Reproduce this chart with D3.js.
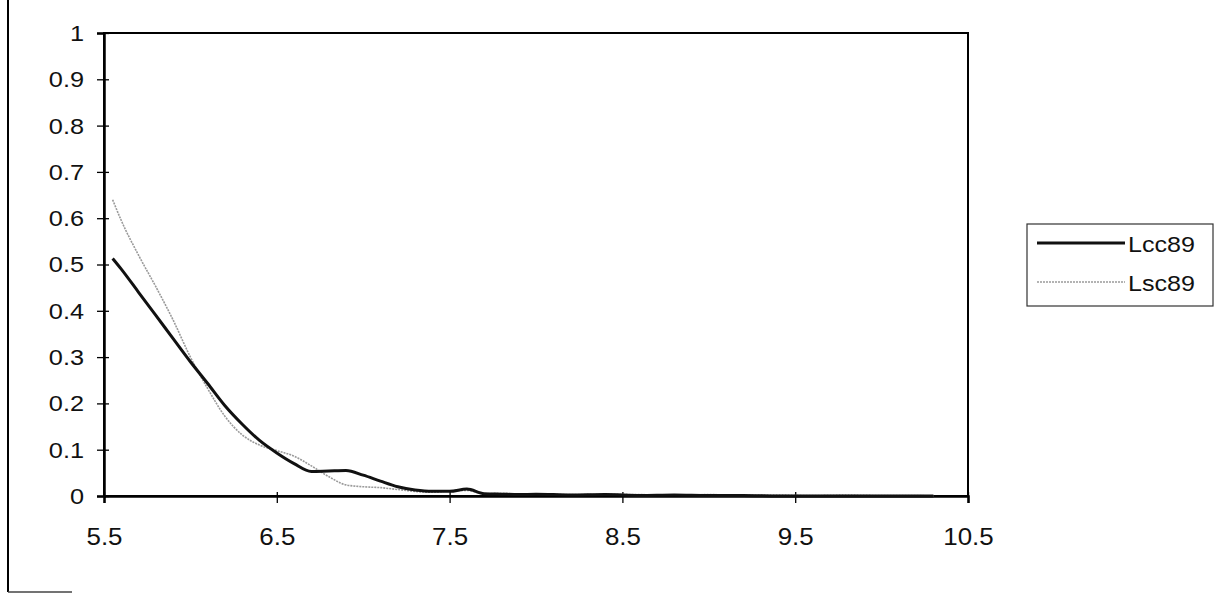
<!DOCTYPE html>
<html>
<head>
<meta charset="utf-8">
<script src="https://cdn.jsdelivr.net/npm/d3@7/dist/d3.min.js"></script>
<style>
  body { margin: 0; background: #fff; }
  svg { display: block; font-family: "Liberation Sans", Arial, sans-serif; }
</style>
</head>
<body>
<svg id="chart"></svg>
<script>
// x positions sampled along the curves
const xValues = [5.55, 5.6, 5.7, 5.8, 5.9, 6.0, 6.1, 6.2, 6.3, 6.4, 6.5, 6.6, 6.7, 6.8, 6.9,
  7.0, 7.1, 7.2, 7.3, 7.4, 7.5, 7.6, 7.7, 7.8, 7.9, 8.0, 8.2, 8.4, 8.6, 8.8, 9.0, 9.2, 9.4,
  9.6, 9.8, 10.0, 10.2, 10.3];

const lcc89 = [0.513, 0.49, 0.44, 0.39, 0.34, 0.29, 0.243, 0.195, 0.155, 0.12, 0.093, 0.07, 0.053,
  0.054, 0.055, 0.045, 0.032, 0.02, 0.013, 0.01, 0.01, 0.015, 0.005, 0.004, 0.003, 0.004, 0.002,
  0.003, 0.001, 0.002, 0.001, 0.001, 0.0, 0.0, 0.0, 0.0, 0.0, 0.0];

const lsc89 = [0.64, 0.595, 0.52, 0.452, 0.38, 0.3, 0.232, 0.172, 0.132, 0.11, 0.098, 0.086, 0.065,
  0.042, 0.024, 0.02, 0.018, 0.014, 0.01, 0.008, 0.011, 0.012, 0.005, 0.006, 0.004, 0.005, 0.003,
  0.004, 0.003, 0.002, 0.003, 0.002, 0.002, 0.001, 0.002, 0.001, 0.001, 0.0];

const seriesNames = ["Lcc89", "Lsc89"];
const xTicks = [5.5, 6.5, 7.5, 8.5, 9.5, 10.5];
const yTicks = [0, 0.1, 0.2, 0.3, 0.4, 0.5, 0.6, 0.7, 0.8, 0.9, 1];

const W = 1226, H = 595;
const plot = { left: 104, right: 968, top: 33, bottom: 496 };

const svg = d3.select("#chart").attr("width", W).attr("height", H);

// stretch text horizontally around its anchor (the scan looks wide)
function widen(sel, sx) {
  sel.each(function () {
    const t = d3.select(this);
    const x0 = +t.attr("x") || 0;
    t.attr("transform", `translate(${x0},0) scale(${sx},1) translate(${-x0},0)`);
  });
}

// partial outer chart border (left edge + bottom stub)
svg.append("line").attr("x1", 8).attr("x2", 8).attr("y1", 0).attr("y2", 592)
  .attr("stroke", "#000").attr("stroke-width", 2);
svg.append("line").attr("x1", 8).attr("x2", 72).attr("y1", 592).attr("y2", 592)
  .attr("stroke", "#444").attr("stroke-width", 1.5);

const x = d3.scaleLinear().domain([5.5, 10.5]).range([plot.left, plot.right]);
const y = d3.scaleLinear().domain([0, 1]).range([plot.bottom, plot.top]);

// plot frame
svg.append("rect")
  .attr("x", plot.left).attr("y", plot.top)
  .attr("width", plot.right - plot.left).attr("height", plot.bottom - plot.top)
  .attr("fill", "none").attr("stroke", "#000").attr("stroke-width", 2);

const yAxis = svg.append("g")
  .attr("transform", `translate(${plot.left},0)`)
  .call(d3.axisLeft(y).tickValues(yTicks).tickSize(7).tickPadding(13)
    .tickFormat(d => d3.format("")(d)));
yAxis.select(".domain").attr("stroke-width", 2.5);
yAxis.selectAll(".tick line").attr("x1", 5).attr("stroke-width", 1.3);
yAxis.selectAll("text").attr("font-size", 22).attr("fill", "#111")
  .attr("font-family", "Liberation Sans, Arial, sans-serif")
  .attr("dy", "0.34em")
  .call(widen, 1.15);

const xAxis = svg.append("g")
  .attr("transform", `translate(0,${plot.bottom})`)
  .call(d3.axisBottom(x).tickValues(xTicks).tickSize(7).tickPadding(25)
    .tickFormat(d3.format(".1f")));
xAxis.select(".domain").attr("stroke-width", 2.5);
xAxis.selectAll(".tick line").attr("y1", -4).attr("stroke-width", 1.3);
xAxis.selectAll("text").attr("font-size", 24).attr("fill", "#111")
  .attr("font-family", "Liberation Sans, Arial, sans-serif")
  .call(widen, 1.08);

const line = d3.line()
  .x((d, i) => x(xValues[i]))
  .y(d => y(d))
  .curve(d3.curveMonotoneX);

svg.append("path").datum(lsc89)
  .attr("d", line).attr("fill", "none")
  .attr("stroke", "#9a9a9a").attr("stroke-width", 1.6)
  .attr("stroke-dasharray", "2,1");

svg.append("path").datum(lcc89)
  .attr("d", line).attr("fill", "none")
  .attr("stroke", "#111").attr("stroke-width", 3);

// legend
const legend = svg.append("g");
legend.append("rect")
  .attr("x", 1027).attr("y", 224).attr("width", 186).attr("height", 82)
  .attr("fill", "#fff").attr("stroke", "#333").attr("stroke-width", 1.2);

const legendStyles = [
  { stroke: "#111", width: 3, dash: null },
  { stroke: "#9a9a9a", width: 1.6, dash: "2,1" }
];
seriesNames.forEach((name, i) => {
  const ly = 243 + i * 39;
  legend.append("line")
    .attr("x1", 1037).attr("x2", 1125).attr("y1", ly).attr("y2", ly)
    .attr("stroke", legendStyles[i].stroke)
    .attr("stroke-width", legendStyles[i].width)
    .attr("stroke-dasharray", legendStyles[i].dash);
  legend.append("text")
    .attr("x", 1128).attr("y", ly + 9)
    .attr("font-size", 22).attr("fill", "#111")
    .text(name)
    .call(widen, 1.14);
});
</script>
</body>
</html>
